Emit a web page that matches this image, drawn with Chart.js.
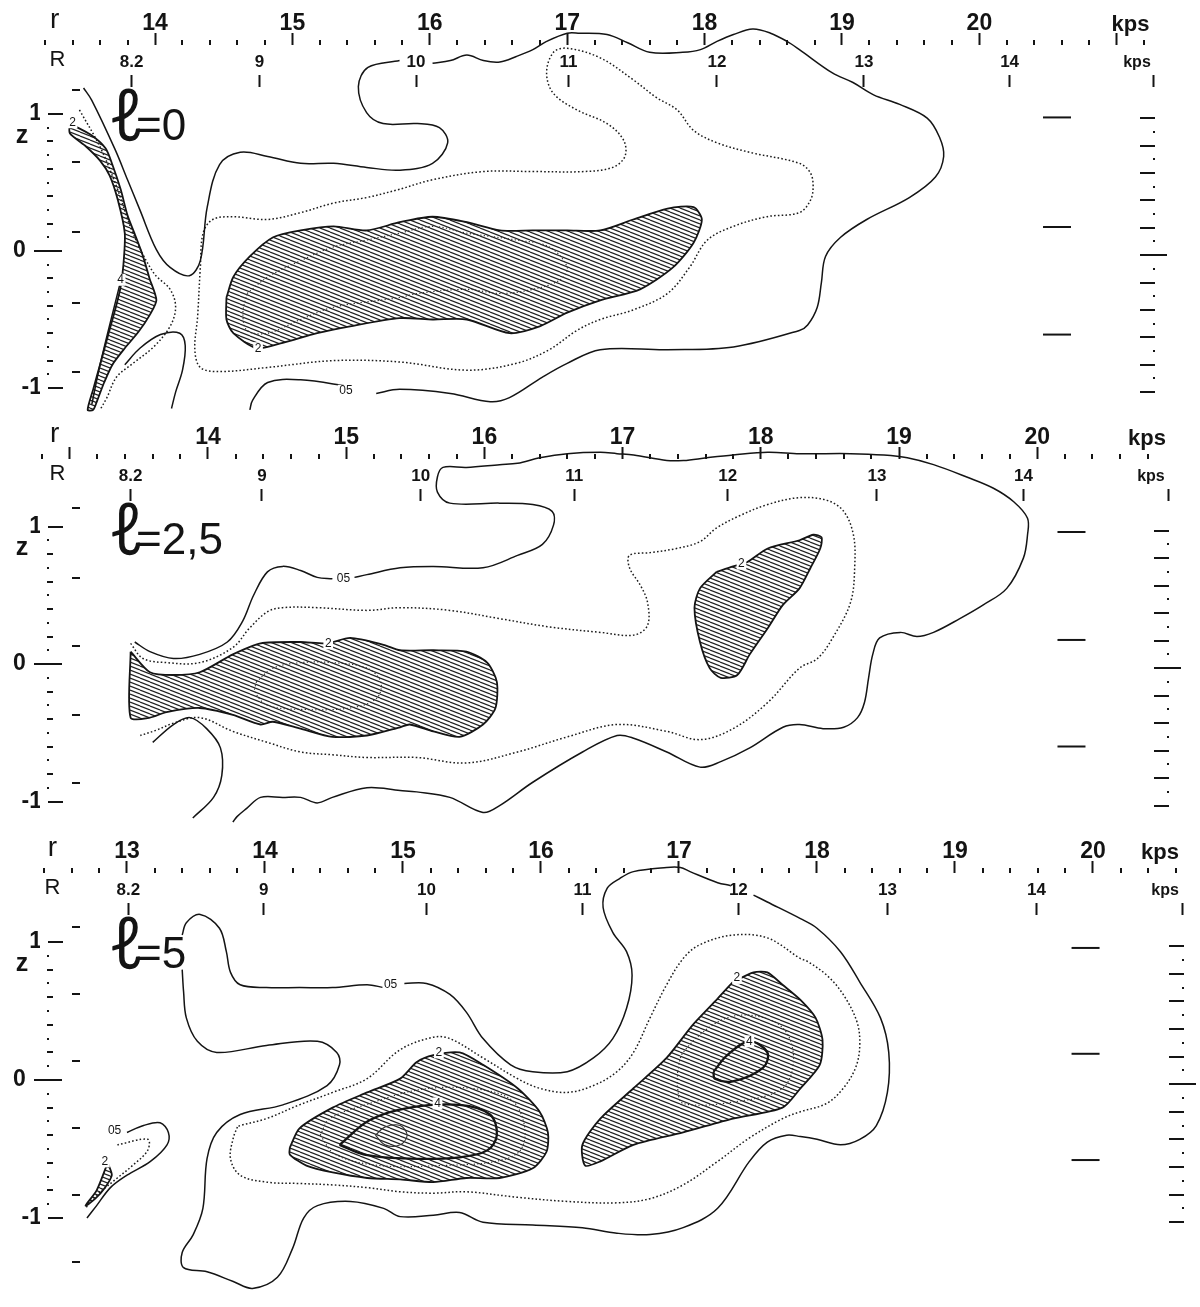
<!DOCTYPE html>
<html><head><meta charset="utf-8">
<script src="https://cdn.jsdelivr.net/npm/chart.js@4.4.1/dist/chart.umd.min.js"></script>
<style>
html,body{margin:0;padding:0;background:#fff;}
#wrap{position:relative;width:1200px;height:1307px;background:#fff;}
canvas{position:absolute;left:0;display:block;}
</style></head><body>
<div id="wrap">
<canvas id="c1" width="1200" height="414" style="top:0px"></canvas>
<canvas id="c2" width="1200" height="414" style="top:414px"></canvas>
<canvas id="c3" width="1200" height="479" style="top:828px"></canvas>
</div>
<script>
// ================= DATA (r in kps, z in kps) =================
// ---- axes ----
const p1rSpan=[13.2,21.2], p1rLabelAt=[14,15,16,17,18,19,20], p1rTitleAt=13.27, p1rKpsAt=21.10;
const p2rSpan=[12.8,20.8], p2rLabelAt=[14,15,16,17,18,19,20], p2rTitleAt=12.89, p2rKpsAt=20.795;
const p3rSpan=[12.4,20.6], p3rLabelAt=[13,14,15,16,17,18,19,20], p3rTitleAt=12.46, p3rKpsAt=20.486;
const RLabels=['8.2','9','10','11','12','13','14'];
const p1RAt=[13.83,14.76,15.90,17.01,18.09,19.16,20.22], p1RTitleAt=13.29, p1RKpsTick=21.27, p1RKpsLabel=21.147;
const p2RAt=[13.44,14.39,15.54,16.65,17.76,18.84,19.90], p2RTitleAt=12.91, p2RKpsTick=20.95, p2RKpsLabel=20.823;
const p3RAt=[13.01,13.99,15.17,16.30,17.43,18.51,19.59], p3RTitleAt=12.46, p3RKpsTick=20.65, p3RKpsLabel=20.522;
const zTickAt=[-1,0,1];
const zTickLabels=['-1','0\u2002\u2009','1'];
const p1LeftScale=[1.175,0.65,0.14,-0.38,-0.88];
const p2LeftScale=[1.135,0.625,0.13,-0.37,-0.866];
const p3LeftScale=[1.11,0.62,0.14,-0.35,-0.83,-1.32];
const p1ScaleMarks=[[20.565,0.975],[20.565,0.175],[20.565,-0.61]];
const p2ScaleMarks=[[20.248,0.96],[20.248,0.175],[20.248,-0.60]];
const p3ScaleMarks=[[19.946,0.957],[19.946,0.19],[19.946,-0.58]];

// ---- panel 1 : l = 0 ----
const p1Outer005=[[13.48,1.19],[13.54,1.10],[13.71,0.74],[13.80,0.52],[13.89,0.30],[14.01,0.01],[14.11,-0.12],[14.25,-0.18],[14.33,-0.07],[14.38,0.32],[14.47,0.63],[14.62,0.72],[14.82,0.69],[15.06,0.64],[15.30,0.64],[15.54,0.61],[15.78,0.59],[16.02,0.64],[16.13,0.79],[16.07,0.90],[15.91,0.93],[15.66,0.93],[15.54,1.01],[15.48,1.20],[15.55,1.34],[15.78,1.39],null,[16.02,1.37],[16.15,1.39],[16.27,1.43],[16.39,1.39],[16.51,1.38],[16.63,1.42],[16.75,1.47],[16.85,1.53],[17.00,1.59],[17.09,1.59],[17.29,1.58],[17.44,1.52],[17.60,1.45],[17.84,1.45],[17.97,1.47],[18.09,1.53],[18.21,1.58],[18.35,1.62],[18.48,1.59],[18.60,1.53],[18.69,1.47],[18.93,1.30],[19.08,1.23],[19.23,1.14],[19.42,1.07],[19.62,0.97],[19.71,0.83],[19.74,0.69],[19.68,0.54],[19.49,0.39],[19.18,0.23],[18.99,0.10],[18.88,-0.04],[18.85,-0.23],[18.82,-0.41],[18.75,-0.54],[18.69,-0.58],[18.21,-0.70],[17.73,-0.72],[17.24,-0.72],[17.00,-0.82],[16.82,-0.92],[16.58,-1.07],[16.44,-1.10],[16.15,-1.04],[15.78,-1.01],[15.61,-1.04],null,[15.42,-0.99],[15.06,-0.94],[14.82,-0.96],[14.71,-1.09],[14.69,-1.16]];
const p1Arch005=[[13.78,-0.83],[13.89,-0.71],[14.04,-0.61],[14.18,-0.60],[14.22,-0.69],[14.20,-0.87],[14.15,-1.03],[14.12,-1.15]];
const p1LeftDotted=[[13.45,1.03],[13.60,0.76],[13.72,0.47],[13.84,0.13],[13.99,-0.16],[14.11,-0.28],[14.15,-0.41],[14.11,-0.55],[13.99,-0.70],[13.84,-0.82],[13.72,-0.92],[13.65,-1.07],[13.60,-1.16]];
const p1Sliver=[[13.38,0.93],[13.53,0.85],[13.64,0.75],[13.69,0.63],[13.75,0.45],[13.80,0.26],[13.85,0.13],[13.91,-0.03],[13.96,-0.20],[14.01,-0.36],[13.96,-0.47],[13.88,-0.59],[13.78,-0.71],[13.69,-0.83],[13.63,-0.96],[13.58,-1.09],[13.55,-1.16],[13.51,-1.16],[13.55,-1.01],[13.60,-0.83],[13.66,-0.61],[13.72,-0.39],[13.75,-0.26],[13.77,-0.10],[13.78,0.13],[13.73,0.37],[13.67,0.55],[13.60,0.66],[13.49,0.77],[13.38,0.86],[13.38,0.93]];
const p1Sliver4=[[13.75,-0.22],[13.60,-0.83],[13.54,-1.12]];
const p1Dotted=[[15.78,0.45],[15.54,0.39],[15.30,0.35],[15.06,0.28],[14.82,0.23],[14.57,0.25],[14.42,0.23],[14.35,0.13],[14.33,-0.12],[14.31,-0.48],[14.29,-0.72],[14.33,-0.85],[14.47,-0.88],[14.82,-0.85],[15.30,-0.80],[15.78,-0.81],[16.27,-0.87],[16.63,-0.82],[16.87,-0.72],[17.07,-0.58],[17.24,-0.50],[17.48,-0.43],[17.73,-0.31],[17.89,-0.12],[18.02,0.08],[18.21,0.18],[18.45,0.25],[18.69,0.28],[18.77,0.37],[18.79,0.47],[18.77,0.57],[18.69,0.64],[18.33,0.72],[18.09,0.79],[17.92,0.88],[17.80,1.03],[17.65,1.12],[17.48,1.25],[17.24,1.41],[17.00,1.48],[16.90,1.45],[16.85,1.30],[16.90,1.15],[17.07,1.03],[17.29,0.93],[17.41,0.81],[17.42,0.69],[17.33,0.61],[17.12,0.58],[16.75,0.58],[16.39,0.58],[16.02,0.52],[15.78,0.45]];
const p1Hatch=[[14.52,-0.34],[14.57,-0.19],[14.69,-0.04],[14.86,0.10],[15.06,0.15],[15.30,0.18],[15.54,0.15],[15.78,0.21],[16.02,0.25],[16.27,0.21],[16.51,0.15],[16.75,0.15],[17.00,0.15],[17.24,0.15],[17.48,0.23],[17.73,0.31],[17.92,0.32],[17.98,0.23],[17.92,0.06],[17.77,-0.12],[17.53,-0.28],[17.24,-0.36],[17.00,-0.45],[16.80,-0.55],[16.58,-0.60],[16.27,-0.50],[16.02,-0.50],[15.78,-0.49],[15.42,-0.55],[15.18,-0.60],[14.93,-0.67],[14.74,-0.71],[14.57,-0.60],[14.52,-0.50],[14.52,-0.34]];
const p1Inner=[[14.67,-0.31],[14.82,-0.19],[15.06,-0.07],[15.30,0.03],[15.54,0.08],[15.78,0.13],[16.02,0.18],[16.27,0.13],[16.63,0.08],[16.87,0.03],[17.00,-0.12],[16.95,-0.21],[16.75,-0.28],[16.51,-0.31],[16.27,-0.28],[15.91,-0.31],[15.78,-0.34],[15.30,-0.41],[15.06,-0.50],[14.82,-0.60],[14.67,-0.58],[14.64,-0.45],[14.67,-0.31]];
const p1Labels=[[13.40,0.94,'2'],[13.75,-0.21,'4'],[14.75,-0.71,'2'],[15.39,-1.02,'05']];

// ---- panel 2 : l = 2,5 ----
const p2Outer005=[[13.47,0.16],[13.58,0.09],[13.75,0.04],[13.94,0.07],[14.14,0.16],[14.25,0.31],[14.33,0.50],[14.43,0.67],[14.54,0.71],[14.67,0.68],[14.79,0.63],[14.90,0.62],null,[15.06,0.63],[15.15,0.65],[15.39,0.70],[15.63,0.71],[15.99,0.70],[16.24,0.79],[16.42,0.87],[16.50,1.01],[16.49,1.11],[16.35,1.16],[16.11,1.17],[15.75,1.17],[15.66,1.25],[15.66,1.36],[15.70,1.43],[15.87,1.43],[16.11,1.45],[16.24,1.46],[16.40,1.50],[16.60,1.53],[16.84,1.54],[16.96,1.53],[17.08,1.52],[17.32,1.48],[17.44,1.48],[17.61,1.50],[17.80,1.52],[18.05,1.54],[18.28,1.53],[18.65,1.53],[18.89,1.52],[19.06,1.50],[19.25,1.45],[19.49,1.36],[19.68,1.28],[19.83,1.18],[19.93,1.06],[19.93,0.94],[19.90,0.77],[19.78,0.55],[19.61,0.43],[19.44,0.33],[19.25,0.23],[19.13,0.20],[19.01,0.23],[18.86,0.19],[18.81,0.07],[18.78,-0.10],[18.75,-0.28],[18.70,-0.39],[18.60,-0.46],[18.45,-0.47],[18.28,-0.44],[18.16,-0.46],[17.92,-0.61],[17.71,-0.71],[17.56,-0.75],[17.32,-0.64],[17.08,-0.54],[16.96,-0.52],[16.71,-0.64],[16.35,-0.86],[16.11,-1.03],[15.99,-1.08],[15.75,-0.97],[15.51,-0.93],[15.39,-0.92],[15.15,-0.90],[14.90,-0.97],[14.79,-1.01],[14.67,-0.97],[14.54,-0.97],[14.38,-0.97],[14.28,-1.05],[14.21,-1.11],[14.18,-1.15]];
const p2Arch005=[[13.60,-0.57],[13.75,-0.44],[13.87,-0.39],[13.99,-0.47],[14.09,-0.61],[14.10,-0.81],[14.04,-0.97],[13.89,-1.12]];
const p2Dotted=[[13.44,0.15],[13.53,0.04],[13.70,0.01],[13.94,0.01],[14.18,0.12],[14.30,0.26],[14.43,0.38],[14.54,0.41],[14.79,0.41],[15.15,0.39],[15.39,0.41],[15.75,0.39],[16.11,0.33],[16.47,0.27],[16.84,0.23],[17.08,0.21],[17.18,0.28],[17.18,0.45],[17.13,0.57],[17.05,0.70],[17.05,0.79],[17.20,0.81],[17.39,0.84],[17.56,0.89],[17.68,0.99],[17.85,1.08],[18.05,1.16],[18.28,1.21],[18.48,1.19],[18.60,1.11],[18.67,0.94],[18.68,0.72],[18.65,0.45],[18.52,0.19],[18.41,0.04],[18.28,-0.03],[18.05,-0.28],[17.80,-0.47],[17.56,-0.55],[17.32,-0.49],[16.96,-0.44],[16.60,-0.53],[16.24,-0.64],[15.87,-0.72],[15.51,-0.68],[15.15,-0.68],[14.90,-0.66],[14.67,-0.64],[14.43,-0.57],[14.18,-0.49],[13.94,-0.39],[13.75,-0.43],[13.63,-0.48],[13.51,-0.52]];
const p2HatchA=[[13.44,0.09],[13.58,-0.06],[13.75,-0.08],[13.94,-0.06],[14.18,0.07],[14.38,0.15],[14.67,0.16],[14.86,0.15],[15.03,0.19],[15.27,0.14],[15.39,0.10],[15.63,0.10],[15.87,0.09],[16.02,0.01],[16.09,-0.13],[16.08,-0.32],[15.99,-0.44],[15.82,-0.53],[15.63,-0.49],[15.46,-0.44],[15.39,-0.46],[15.15,-0.52],[14.90,-0.53],[14.67,-0.47],[14.47,-0.42],[14.38,-0.44],[14.18,-0.37],[13.94,-0.32],[13.70,-0.35],[13.58,-0.39],[13.44,-0.39],[13.44,0.09]];
const p2InnerA=[[14.35,-0.13],[14.47,-0.03],[14.67,0.01],[14.90,0.01],[15.15,-0.03],[15.25,-0.13],[15.22,-0.25],[15.03,-0.32],[14.67,-0.33],[14.43,-0.30],[14.34,-0.20],[14.35,-0.13]];
const p2HatchB=[[17.68,0.67],[17.56,0.55],[17.52,0.41],[17.56,0.16],[17.63,-0.03],[17.71,-0.10],[17.83,-0.08],[17.92,0.07],[18.05,0.26],[18.16,0.43],[18.28,0.55],[18.36,0.70],[18.43,0.84],[18.44,0.92],[18.38,0.94],[18.28,0.90],[18.05,0.84],[17.90,0.74],[17.80,0.71],[17.68,0.67]];
const p2Labels=[[14.98,0.62,'05'],[14.87,0.15,'2'],[17.86,0.73,'2']];

// ---- panel 3 : l = 5 ----
const p3Outer005=[[13.40,1.05],[13.43,1.14],[13.53,1.20],[13.67,1.10],[13.72,0.93],[13.75,0.78],[13.82,0.69],[14.01,0.67],[14.25,0.67],[14.49,0.67],[14.74,0.69],[14.86,0.67],null,[15.01,0.70],[15.17,0.70],[15.34,0.62],[15.46,0.49],[15.58,0.30],[15.78,0.11],[15.94,0.06],[16.19,0.06],[16.38,0.16],[16.52,0.30],[16.62,0.52],[16.66,0.76],[16.62,0.93],[16.52,1.07],[16.45,1.25],[16.48,1.39],[16.57,1.46],[16.67,1.51],[16.91,1.54],[17.01,1.54],[17.08,1.51],[17.28,1.43],[17.37,1.41],null,[17.54,1.34],[17.64,1.29],[17.88,1.17],[18.00,1.10],[18.17,0.93],[18.31,0.71],[18.46,0.45],[18.52,0.20],[18.51,-0.09],[18.43,-0.33],[18.31,-0.43],[18.17,-0.47],[18.00,-0.43],[17.88,-0.41],[17.78,-0.40],[17.64,-0.45],[17.51,-0.59],[17.28,-0.93],[17.03,-1.07],[16.79,-1.12],[16.55,-1.11],[16.30,-1.07],[15.94,-1.05],[15.58,-1.03],[15.41,-0.96],[15.22,-0.98],[14.98,-0.99],[14.86,-0.93],[14.62,-0.88],[14.38,-0.91],[14.28,-1.00],[14.20,-1.22],[14.09,-1.43],[13.91,-1.51],[13.77,-1.46],[13.58,-1.39],[13.41,-1.36],[13.40,-1.25],[13.48,-1.12],[13.55,-0.93],[13.58,-0.57],[13.65,-0.38],[13.82,-0.25],[14.13,-0.18],[14.45,-0.04],[14.54,0.11],[14.52,0.20],[14.38,0.28],[14.01,0.25],[13.65,0.20],[13.51,0.28],[13.43,0.45],[13.41,0.64],[13.40,0.80]];
const p3SmallSolid=[[13.00,-0.38],[13.12,-0.33],[13.24,-0.31],[13.30,-0.38],[13.29,-0.47],[13.17,-0.59],[13.00,-0.69],[12.88,-0.78],[12.78,-0.91],[12.71,-1.00]];
const p3SmallDotted=[[12.93,-0.47],[13.15,-0.43],[13.15,-0.51],[13.04,-0.62],[12.93,-0.71],[12.75,-0.86],[12.70,-0.93]];
const p3SmallHatch=[[12.86,-0.60],[12.89,-0.69],[12.84,-0.78],[12.77,-0.86],[12.70,-0.91],[12.78,-0.80],[12.86,-0.60]];
const p3Dotted=[[13.80,-0.34],[13.77,-0.42],[13.75,-0.57],[13.82,-0.69],[14.01,-0.74],[14.25,-0.75],[14.49,-0.76],[14.74,-0.78],[14.98,-0.81],[15.22,-0.82],[15.46,-0.81],[15.83,-0.85],[16.19,-0.88],[16.55,-0.89],[16.79,-0.86],[17.03,-0.76],[17.28,-0.59],[17.51,-0.42],[17.75,-0.28],[17.88,-0.23],[18.07,-0.17],[18.19,-0.06],[18.28,0.09],[18.31,0.25],[18.29,0.42],[18.19,0.62],[18.07,0.76],[17.93,0.86],[17.88,0.88],[17.64,1.03],[17.39,1.05],[17.15,0.98],[17.03,0.88],[16.91,0.69],[16.79,0.45],[16.67,0.20],[16.55,0.06],[16.38,-0.04],[16.19,-0.09],[15.99,-0.06],[15.83,0.01],[15.58,0.16],[15.34,0.30],[15.22,0.31],[14.98,0.22],[14.74,0.01],[14.49,-0.09],[14.25,-0.18],[14.01,-0.28],[13.82,-0.33],[13.80,-0.34]];
const p3HatchA=[[14.18,-0.49],[14.25,-0.35],[14.49,-0.20],[14.74,-0.09],[14.98,0.01],[15.10,0.13],[15.22,0.18],[15.41,0.20],[15.58,0.11],[15.83,-0.06],[15.99,-0.23],[16.05,-0.38],[16.04,-0.52],[15.94,-0.64],[15.70,-0.71],[15.46,-0.71],[15.22,-0.74],[14.98,-0.72],[14.74,-0.71],[14.49,-0.67],[14.30,-0.62],[14.18,-0.54],[14.18,-0.49]];
const p3InnerA=[[14.40,-0.40],[14.47,-0.28],[14.76,-0.17],[15.12,-0.07],[15.49,-0.06],[15.78,-0.14],[15.88,-0.33],[15.85,-0.51],[15.67,-0.59],[15.27,-0.62],[14.83,-0.62],[14.51,-0.54],[14.40,-0.40]];
const p3FourA=[[14.54,-0.47],[14.76,-0.29],[15.05,-0.20],[15.41,-0.18],[15.63,-0.25],[15.68,-0.40],[15.61,-0.51],[15.41,-0.56],[15.05,-0.57],[14.72,-0.54],[14.54,-0.47]];
const p3CoreA=[[14.80,-0.40],[14.87,-0.34],[14.98,-0.33],[15.03,-0.40],[14.98,-0.47],[14.87,-0.47],[14.80,-0.40]];
const p3HatchB=[[17.39,0.71],[17.54,0.78],[17.64,0.78],[17.75,0.69],[17.88,0.58],[17.99,0.45],[18.04,0.29],[18.02,0.11],[17.88,-0.06],[17.75,-0.20],[17.39,-0.28],[17.03,-0.38],[16.67,-0.47],[16.43,-0.59],[16.32,-0.62],[16.30,-0.47],[16.43,-0.28],[16.67,-0.06],[16.91,0.16],[17.10,0.40],[17.28,0.59],[17.39,0.71]];
const p3InnerB=[[16.99,0.06],[17.03,0.20],[17.28,0.42],[17.51,0.47],[17.75,0.38],[17.83,0.16],[17.75,-0.06],[17.39,-0.16],[17.03,-0.17],[16.99,-0.06],[16.99,0.06]];
const p3FourB=[[17.25,0.06],[17.35,0.18],[17.51,0.28],[17.64,0.20],[17.61,0.09],[17.39,-0.01],[17.26,0.01],[17.25,0.06]];
const p3Labels=[[14.91,0.69,'05'],[12.91,-0.37,'05'],[12.84,-0.59,'2'],[15.26,0.20,'2'],[15.25,-0.17,'4'],[17.42,0.74,'2'],[17.51,0.28,'4']];

// ================= RENDERING =================
const FAM='"Liberation Sans", "DejaVu Sans", Arial, sans-serif';
const INK='#141414';

function makeHatch(ctx){
  const c=document.createElement('canvas'); c.width=10; c.height=4;
  const g=c.getContext('2d');
  g.strokeStyle='#222'; g.lineWidth=1.2;
  for(let k=-1;k<=1;k++){ g.beginPath(); g.moveTo(0,4*k); g.lineTo(10,4*k+4); g.stroke(); }
  return ctx.createPattern(c,'repeat');
}
function pts(arr){
  const out=[]; let last=[0,0];
  for(const p of arr){ if(p===null){ out.push({x:last[0],y:null}); } else { out.push({x:p[0],y:p[1]}); last=p; } }
  return out;
}
function ds(arr, style, pattern){
  const d={data:pts(arr), showLine:true, pointRadius:0, pointHoverRadius:0, borderColor:INK, borderWidth:1.5,
    tension:0.35, clip:false, spanGaps:false, fill:false, capBezierPoints:false, order:1};
  if(style==='dotted') Object.assign(d,{borderDash:[1.6,2.2], borderWidth:1.5, borderColor:'#1c1c1c'});
  if(style==='thinDotted') Object.assign(d,{borderDash:[1.3,2.2], borderWidth:1.1, borderColor:'#333'});
  if(style==='hatch') Object.assign(d,{fill:'shape', backgroundColor:pattern, borderWidth:1.8, order:5, tension:0.25});
  if(style==='heavy') Object.assign(d,{borderWidth:2.3});
  if(style==='thin') Object.assign(d,{borderWidth:1.1, borderColor:'#333'});
  return d;
}
function marksDs(arr){
  return {data:arr.map(p=>({x:p[0],y:p[1]})), showLine:false, pointStyle:'line', pointRadius:14, pointHoverRadius:14,
    pointBorderWidth:2, borderColor:INK, backgroundColor:INK, clip:false, order:0};
}
function rAxisList(span,labelAt,titleAt,kpsAt){
  const list=[]; const n=Math.round((span[1]-span[0])*5);
  for(let i=0;i<=n;i++){
    const v=Math.round((span[0]+i*0.2)*10)/10;
    const major=Math.abs(v-Math.round(v))<1e-6;
    list.push({value:v,label:labelAt.includes(v)?String(v):'',kind:major?'major':'minor',font:'num'});
  }
  list.push({value:titleAt,label:'r',kind:'text',font:'title'});
  list.push({value:kpsAt,label:'kps',kind:'text',font:'unit'});
  return list.sort((a,b)=>a.value-b.value);
}
function RAxisList(at,titleAt,kpsTick,kpsLabel){
  const list=[{value:titleAt,label:'R',kind:'text',font:'title'}];
  at.forEach((v,i)=>list.push({value:v,label:RLabels[i],kind:'major',font:'num'}));
  list.push({value:kpsTick,label:'',kind:'major',font:'num'});
  list.push({value:kpsLabel,label:'kps',kind:'text',font:'unit'});
  return list.sort((a,b)=>a.value-b.value);
}
const rFonts={num:{family:FAM,size:23,weight:'bold',lineHeight:0.83},title:{family:FAM,size:28,weight:'normal',lineHeight:0.9},unit:{family:FAM,size:22,weight:'bold',lineHeight:0.7}};
const RFonts={num:{family:FAM,size:17,weight:'bold',lineHeight:1},title:{family:FAM,size:22,weight:'normal',lineHeight:1},unit:{family:FAM,size:16,weight:'bold',lineHeight:1}};

const decoPlugin={
  id:'deco',
  afterDatasetsDraw(chart,args,o){
    const ctx=chart.ctx, xs=chart.scales.x, ys=chart.scales.y;
    ctx.save();
    ctx.font='12px '+FAM; ctx.textAlign='center'; ctx.textBaseline='middle';
    for(const [r,z,t] of o.labels){
      const px=xs.getPixelForValue(r), py=ys.getPixelForValue(z);
      const w=ctx.measureText(t).width+3;
      ctx.fillStyle='#fff'; ctx.fillRect(px-w/2,py-6,w,12);
      ctx.fillStyle=INK; ctx.fillText(t,px,py);
    }
    ctx.restore();
  },
  afterDraw(chart,args,o){
    const ctx=chart.ctx, xs=chart.scales.x, ys=chart.scales.y, xR=chart.scales.xR;
    const L=chart.chartArea.left, T=chart.chartArea.top;
    ctx.save(); ctx.fillStyle=INK;
    o.rList.forEach(t=>{ if(t.kind!=='minor') return; const px=Math.round(xs.getPixelForValue(t.value)); ctx.fillRect(px-1,xs.bottom-5,2,5); });
    for(let k=-10;k<=10;k++){
      const py=Math.round(ys.getPixelForValue(k/10));
      if(k===0) ctx.fillRect(L-6,py-1,28,2);
      else if(Math.abs(k)===10) ctx.fillRect(L+8,py-1,15,2);
      else if(k%2===0) ctx.fillRect(L+7,py-1,6,2);
      else ctx.fillRect(L+7,py-1,2,2);
    }
    o.leftScale.forEach(z=>{ const py=Math.round(ys.getPixelForValue(z)); ctx.fillRect(L+32,py-1,8,2); });
    const X=Math.round(xR.getPixelForValue(o.RKpsTick));
    for(let k=-10;k<=10;k++){
      const py=Math.round(ys.getPixelForValue(k/10-0.03));
      if(k===0) ctx.fillRect(X-14,py-1,27,2);
      else if(k%2===0) ctx.fillRect(X-14,py-1,15,2);
      else ctx.fillRect(X-1,py-1,2,2);
    }
    ctx.textAlign='center'; ctx.textBaseline='middle';
    ctx.font='bold 25px '+FAM;
    ctx.fillText('z',L-18,ys.getPixelForValue(0.84));
    ctx.textAlign='left'; ctx.textBaseline='alphabetic';
    ctx.font='300 70px "Noto Sans", "DejaVu Sans"';
    ctx.strokeStyle=INK; ctx.lineWidth=1.6; ctx.lineJoin='round';
    ctx.fillText('\u2113',L+69,T+53);
    ctx.strokeText('\u2113',L+69,T+53);
    ctx.font='44px '+FAM;
    ctx.fillText('='+o.lName,L+96,T+53);
    ctx.restore();
  }
};

function makePanel(id,cfg){
  const canvas=document.getElementById(id);
  const ctx=canvas.getContext('2d');
  const pat=makeHatch(ctx);
  const rList=rAxisList(cfg.rSpan,cfg.rLabelAt,cfg.rTitleAt,cfg.rKpsAt);
  const RList=RAxisList(cfg.RAt,cfg.RTitleAt,cfg.RKpsTick,cfg.RKpsLabel);
  const datasets=cfg.sets.map(s=>ds(s[0],s[1],pat));
  datasets.push(marksDs(cfg.marks));
  const zeroPad=s=>{s.paddingLeft=0;s.paddingRight=0;s.paddingTop=0;s.paddingBottom=0;};
  new Chart(ctx,{
    type:'scatter',
    data:{datasets},
    options:{
      responsive:false, animation:false, devicePixelRatio:1, events:[],
      layout:{padding:{left:0,right:10,top:0,bottom:0}, autoPadding:false},
      plugins:{legend:{display:false}, tooltip:{enabled:false},
        deco:{labels:cfg.labels, rList, leftScale:cfg.leftScale, RKpsTick:cfg.RKpsTick, lName:cfg.lName}},
      scales:{
        x:{type:'linear', position:'top', weight:2, min:cfg.xRange[0], max:cfg.xRange[1], bounds:'data',
          afterFit:s=>{s.height=45; zeroPad(s);},
          afterBuildTicks:s=>{s.ticks=rList.map(t=>({value:t.value}));},
          grid:{drawOnChartArea:false, drawTicks:true, tickLength:12, tickWidth:2,
            tickColor:c=>(rList[c.index]&&rList[c.index].kind==='major')?INK:'rgba(0,0,0,0)'},
          border:{display:false},
          ticks:{autoSkip:false, maxRotation:0, minRotation:0, padding:0, color:INK,
            callback:(v,i)=>rList[i]?rList[i].label:'', font:c=>rFonts[(rList[c.index]||{font:'num'}).font]}},
        xR:{type:'linear', axis:'x', position:'top', weight:1, min:cfg.xRange[0], max:cfg.xRange[1], bounds:'data',
          afterFit:s=>{s.height=42; zeroPad(s);},
          afterBuildTicks:s=>{s.ticks=RList.map(t=>({value:t.value}));},
          grid:{drawOnChartArea:false, drawTicks:true, tickLength:12, tickWidth:2,
            tickColor:c=>(RList[c.index]&&RList[c.index].kind==='major')?INK:'rgba(0,0,0,0)'},
          border:{display:false},
          ticks:{autoSkip:false, maxRotation:0, minRotation:0, padding:4, color:INK,
            callback:(v,i)=>RList[i]?RList[i].label:'', font:c=>RFonts[(RList[c.index]||{font:'num'}).font]}},
        y:{type:'linear', position:'left', min:cfg.yRange[0], max:cfg.yRange[1], bounds:'data',
          afterFit:s=>{s.width=40; zeroPad(s);},
          afterBuildTicks:s=>{s.ticks=zTickAt.map(v=>({value:v}));},
          grid:{drawOnChartArea:false, drawTicks:false},
          border:{display:false},
          ticks:{autoSkip:false, padding:-2, color:INK, callback:(v,i)=>zTickLabels[i],
            font:{family:FAM,size:23,weight:'bold'}}}
      }
    },
    plugins:[decoPlugin]
  });
}

makePanel('c1',{xRange:[13.1630,21.5328], yRange:[-1.1898,1.1971], lName:'0',
  rSpan:p1rSpan, rLabelAt:p1rLabelAt, rTitleAt:p1rTitleAt, rKpsAt:p1rKpsAt,
  RAt:p1RAt, RTitleAt:p1RTitleAt, RKpsTick:p1RKpsTick, RKpsLabel:p1RKpsLabel,
  leftScale:p1LeftScale, marks:p1ScaleMarks, labels:p1Labels,
  sets:[[p1Outer005,'solid'],[p1Arch005,'solid'],[p1LeftDotted,'dotted'],[p1Dotted,'dotted'],[p1Inner,'thinDotted'],[p1Sliver4,'solid'],[p1Hatch,'hatch'],[p1Sliver,'hatch']]});
makePanel('c2',{xRange:[12.7844,21.1056], yRange:[-1.1927,1.1855], lName:'2,5',
  rSpan:p2rSpan, rLabelAt:p2rLabelAt, rTitleAt:p2rTitleAt, rKpsAt:p2rKpsAt,
  RAt:p2RAt, RTitleAt:p2RTitleAt, RKpsTick:p2RKpsTick, RKpsLabel:p2RKpsLabel,
  leftScale:p2LeftScale, marks:p2ScaleMarks, labels:p2Labels,
  sets:[[p2Outer005,'solid'],[p2Arch005,'solid'],[p2Dotted,'dotted'],[p2InnerA,'thinDotted'],[p2HatchA,'hatch'],[p2HatchB,'hatch']]});
makePanel('c3',{xRange:[12.3696,20.7029], yRange:[-1.6449,1.1957], lName:'5',
  rSpan:p3rSpan, rLabelAt:p3rLabelAt, rTitleAt:p3rTitleAt, rKpsAt:p3rKpsAt,
  RAt:p3RAt, RTitleAt:p3RTitleAt, RKpsTick:p3RKpsTick, RKpsLabel:p3RKpsLabel,
  leftScale:p3LeftScale, marks:p3ScaleMarks, labels:p3Labels,
  sets:[[p3Outer005,'solid'],[p3SmallSolid,'solid'],[p3SmallDotted,'dotted'],[p3Dotted,'dotted'],[p3InnerA,'thinDotted'],[p3FourA,'heavy'],[p3CoreA,'thin'],[p3InnerB,'thinDotted'],[p3FourB,'heavy'],[p3HatchA,'hatch'],[p3HatchB,'hatch'],[p3SmallHatch,'hatch']]});
</script>
</body></html>
